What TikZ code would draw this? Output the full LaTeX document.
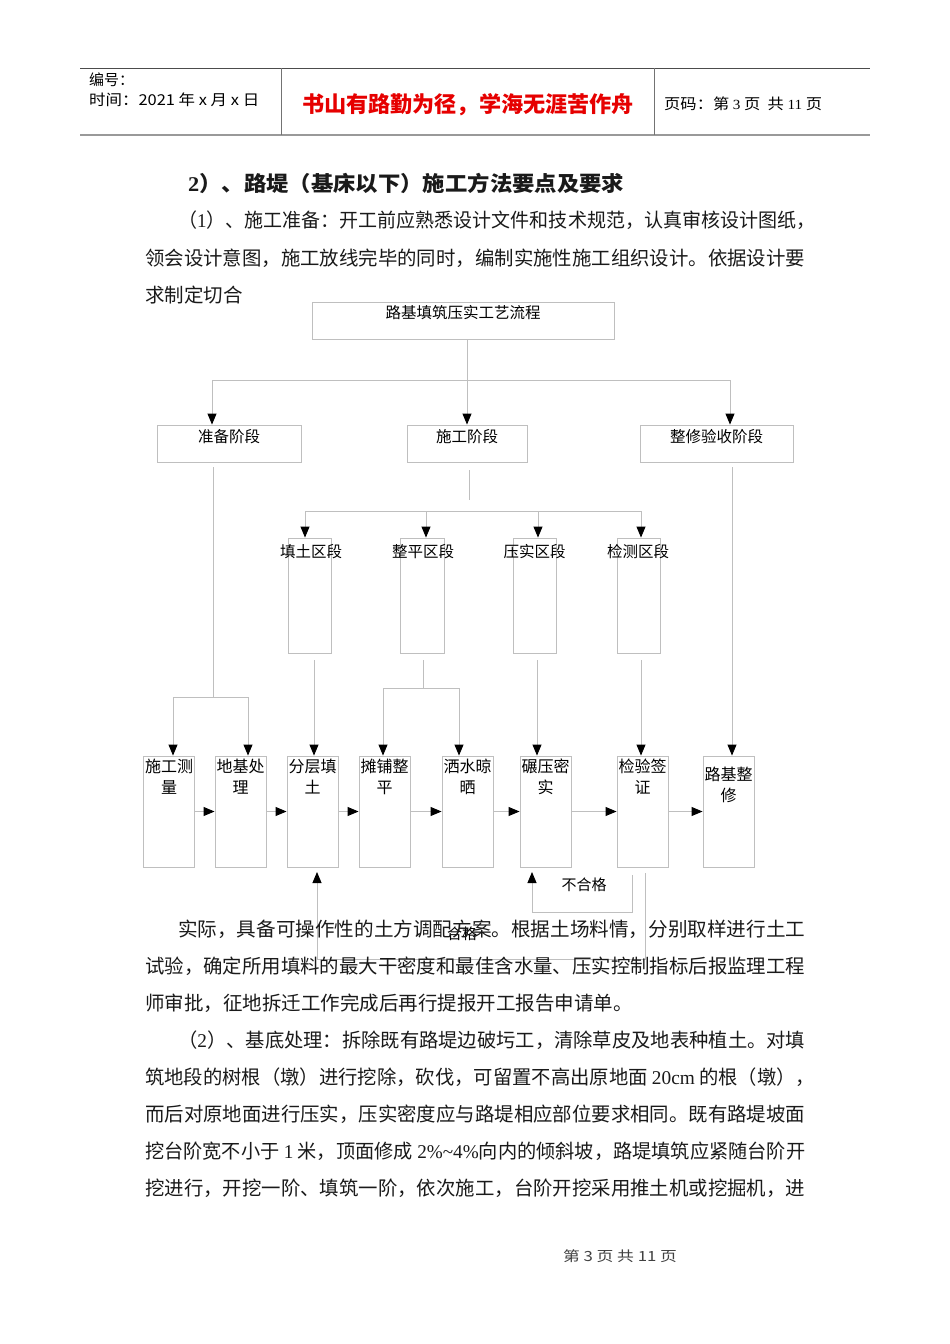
\documentclass[tikz,border=0pt]{standalone}
\usepackage{fontspec}
\usepackage{graphicx}
\setmainfont{Noto Sans CJK SC}
\newfontfamily\latser{Liberation Serif}
\usetikzlibrary{arrows.meta}
\definecolor{lnc}{HTML}{BFBFBF}
\definecolor{txt}{HTML}{1A1A1A}
\definecolor{redt}{HTML}{E60000}
\newlength\fitw
\newcommand\fitbox[2]{\settowidth\fitw{#2}\pgfmathsetmacro\fitr{#1/\fitw}\scalebox{\fitr}[1]{#2}}
\begin{document}
\begin{tikzpicture}[x=1pt,y=-1pt,
  bx/.style={draw=lnc, line width=0.9pt, inner sep=0pt, rectangle},
  ln/.style={draw=lnc, line width=0.9pt},
  arr/.style={draw=lnc, line width=0.9pt, -{Triangle[width=9pt,length=11pt,black]}},
  lbl/.style={inner sep=0pt, text=black, font=\fontsize{15.5}{20}\selectfont},
  blbl/.style={inner sep=0pt, text=black, anchor=north, align=center, font=\fontsize{16}{20.5}\selectfont},
  body/.style={inner sep=0pt, anchor=base west, text=txt, font=\fontsize{19.5}{20}\selectfont},
  hdr/.style={inner sep=0pt, anchor=base west, text=black, font=\fontsize{15}{16}\selectfont}]
\useasboundingbox (0,0) rectangle (950,1344);
\fill[white] (0,0) rectangle (950,1344);

% ---------- header ----------
\coordinate (hTL) at (80,68); \coordinate (hTR) at (870,68);
\coordinate (hBL) at (80,135); \coordinate (hBR) at (870,135);
\draw[draw=black!70, line width=1pt] (hTL) -- (hTR);
\draw[draw=black!40, line width=2.5pt] (hBL) -- (hBR);
\coordinate (v1t) at (281,68); \coordinate (v1b) at (281,135);
\coordinate (v2t) at (654,68); \coordinate (v2b) at (654,135);
\draw[draw=black!55, line width=0.9pt] (v1t) -- (v1b);
\draw[draw=black!55, line width=0.9pt] (v2t) -- (v2b);
\node[hdr] (hno) at (89,85) {编号：};
\node[hdr] (htime) at (89,105) {\fitbox{170}{时间：2021 年 x 月 x 日}};
\node[inner sep=0pt, anchor=base, text=redt, font=\fontsize{22}{24}\selectfont\bfseries] (motto) at (468,112) {\fitbox{332}{书山有路勤为径，学海无涯苦作舟}};
\node[hdr] (hpage) at (664,109) {\fitbox{158}{页码：第 {\latser\fontsize{14}{15}\selectfont 3} 页 \ 共 {\latser\fontsize{14}{15}\selectfont 11} 页}};

% ---------- text above ----------
\node[inner sep=0pt, anchor=base west, text=txt, font=\fontsize{21}{22}\selectfont\bfseries] (head) at (188,191) {\fitbox{436}{{\latser 2}）、路堤（基床以下）施工方法要点及要求}};
\node[body] (t1) at (178,227.5) {\fitbox{637}{（{\latser 1}）、施工准备：开工前应熟悉设计文件和技术规范，认真审核设计图纸，}};
\node[body] (t2) at (145,265.5) {\fitbox{660}{领会设计意图，施工放线完毕的同时，编制实施性施工组织设计。依据设计要}};
\node[body] (t3) at (145,302.5) {求制定切合};

% ---------- flow chart ----------
\node[bx, minimum width=302pt, minimum height=37pt] (title) at (463,320.5) {};
\node[lbl] (titlet) at (463,313) {路基填筑压实工艺流程};

\node[bx, minimum width=144pt, minimum height=37pt] (zb) at (229,443.5) {};
\node[bx, minimum width=120pt, minimum height=37pt] (sg) at (467,443.5) {};
\node[bx, minimum width=153pt, minimum height=37pt] (zx) at (716.5,443.5) {};
\node[lbl] (zbt) at (229,437) {准备阶段};
\node[lbl] (sgt) at (467,437) {施工阶段};
\node[lbl] (zxt) at (716.5,437) {整修验收阶段};

\node[bx, minimum width=43pt, minimum height=115pt] (tq) at (309.5,595.5) {};
\node[bx, minimum width=44pt, minimum height=115pt] (zp) at (422,595.5) {};
\node[bx, minimum width=43pt, minimum height=115pt] (ys) at (534.5,595.5) {};
\node[bx, minimum width=43pt, minimum height=115pt] (jc) at (638.5,595.5) {};
\node[lbl] (tqt) at (311,552) {填土区段};
\node[lbl] (zpt) at (423,552) {整平区段};
\node[lbl] (yst) at (534.5,552) {压实区段};
\node[lbl] (jct) at (638,552) {检测区段};

\foreach \n/\cx in {b1/169, b2/240.5, b3/312.5, b4/384.5, b5/467.5, b6/545.5, b7/642.5, b8/728.5}
  \node[bx, minimum width=51pt, minimum height=111pt] (\n) at (\cx,811.5) {};
\node[blbl] (b1t) at (169,759) {施工测\\量};
\node[blbl] (b2t) at (240.5,759) {地基处\\理};
\node[blbl] (b3t) at (312.5,759) {分层填\\土};
\node[blbl] (b4t) at (384.5,759) {摊铺整\\平};
\node[blbl] (b5t) at (467.5,759) {洒水晾\\晒};
\node[blbl] (b6t) at (545.5,759) {碾压密\\实};
\node[blbl] (b7t) at (642.5,759) {检验签\\证};
\node[blbl] (b8t) at (728.5,767) {路基整\\修};

% level 1 -> level 2
\coordinate (c0) at (467,380);
\coordinate (hL) at (212,380); \coordinate (hR) at (730,380);
\draw[ln] (title.south -| c0) -- (c0);
\draw[ln] (hL) -- (hR);
\draw[arr] (hL) -- (hL |- zb.north);
\draw[arr] (c0) -- (c0 |- sg.north);
\draw[arr] (hR) -- (hR |- zx.north);

% 准备阶段 branch
\coordinate (zbs) at (213,467); \coordinate (p1) at (213,697);
\coordinate (p1l) at (173,697); \coordinate (p1r) at (248,697);
\draw[ln] (zbs) -- (p1);
\draw[ln] (p1l) -- (p1r);
\draw[arr] (p1l) -- (p1l |- b1.north);
\draw[arr] (p1r) -- (p1r |- b2.north);

% 施工阶段 branch
\coordinate (sgs) at (469,470); \coordinate (sge) at (469,500);
\draw[ln] (sgs) -- (sge);
\coordinate (q1) at (305,511); \coordinate (q2) at (426,511);
\coordinate (q3) at (538,511); \coordinate (q4) at (641,511);
\draw[ln] (q1) -- (q4);
\draw[arr] (q1) -- (q1 |- tq.north);
\draw[arr] (q2) -- (q2 |- zp.north);
\draw[arr] (q3) -- (q3 |- ys.north);
\draw[arr] (q4) -- (q4 |- jc.north);

% 整修验收阶段 branch
\coordinate (zxs) at (732,467);
\draw[arr] (zxs) -- (zxs |- b8.north);

% level 3 -> bottom row
\coordinate (tqs) at (314,660);
\draw[arr] (tqs) -- (tqs |- b3.north);
\coordinate (zps) at (423,660); \coordinate (r1) at (423,688);
\coordinate (r1l) at (383,688); \coordinate (r1r) at (459,688);
\draw[ln] (zps) -- (r1);
\draw[ln] (r1l) -- (r1r);
\draw[arr] (r1l) -- (r1l |- b4.north);
\draw[arr] (r1r) -- (r1r |- b5.north);
\coordinate (yss) at (537,660);
\draw[arr] (yss) -- (yss |- b6.north);
\coordinate (jcs) at (641,660);
\draw[arr] (jcs) -- (jcs |- b7.north);

% horizontal flow
\draw[arr] (b1) -- (b2);
\draw[arr] (b2) -- (b3);
\draw[arr] (b3) -- (b4);
\draw[arr] (b4) -- (b5);
\draw[arr] (b5) -- (b6);
\draw[arr] (b6) -- (b7);
\draw[arr] (b7) -- (b8);

% 不合格 loop
\coordinate (n1) at (632,875); \coordinate (n2) at (632,912);
\coordinate (n3) at (532,912); \coordinate (n4) at (532,872);
\draw[arr] (n1) -- (n2) -- (n3) -- (n4);
\node[lbl, font=\fontsize{15}{16}\selectfont] (nbl) at (584,885) {不合格};

% 合格 loop
\coordinate (g1) at (645,873); \coordinate (g2) at (645,959);
\coordinate (g3) at (317,959); \coordinate (g4) at (317,872);
\draw[arr] (g1) -- (g2) -- (g3) -- (g4);
\node[lbl, font=\fontsize{15}{16}\selectfont] (gl) at (462,934) {合格};

% ---------- text below ----------
\node[body] (t4) at (178,936.5) {\fitbox{627}{实际，具备可操作性的土方调配方案。根据土场料情，分别取样进行土工}};
\node[body] (t5) at (145,973.5) {\fitbox{660}{试验，确定所用填料的最大干密度和最佳含水量、压实控制指标后报监理工程}};
\node[body] (t6) at (145,1010.5) {师审批，征地拆迁工作完成后再行提报开工报告申请单。};
\node[body] (t7) at (178,1047.5) {\fitbox{627}{（{\latser 2}）、基底处理：拆除既有路堤边破圬工，清除草皮及地表种植土。对填}};
\node[body] (t8) at (145,1084.5) {\fitbox{670}{筑地段的树根（墩）进行挖除，砍伐，可留置不高出原地面 {\latser 20cm} 的根（墩），}};
\node[body] (t9) at (145,1121.5) {\fitbox{660}{而后对原地面进行压实，压实密度应与路堤相应部位要求相同。既有路堤坡面}};
\node[body] (t10) at (145,1158.5) {\fitbox{660}{挖台阶宽不小于 {\latser 1} 米，顶面修成 {\latser 2\%\char`\~4\%}向内的倾斜坡，路堤填筑应紧随台阶开}};
\node[body] (t11) at (145,1195.5) {\fitbox{660}{挖进行，开挖一阶、填筑一阶，依次施工，台阶开挖采用推土机或挖掘机，进}};

% footer
\node[inner sep=0pt, anchor=base, text=black!75, font=\fontsize{14}{15}\selectfont] (foot) at (620,1261) {\fitbox{114}{第 3 页 共 11 页}};
\end{tikzpicture}
\end{document}
